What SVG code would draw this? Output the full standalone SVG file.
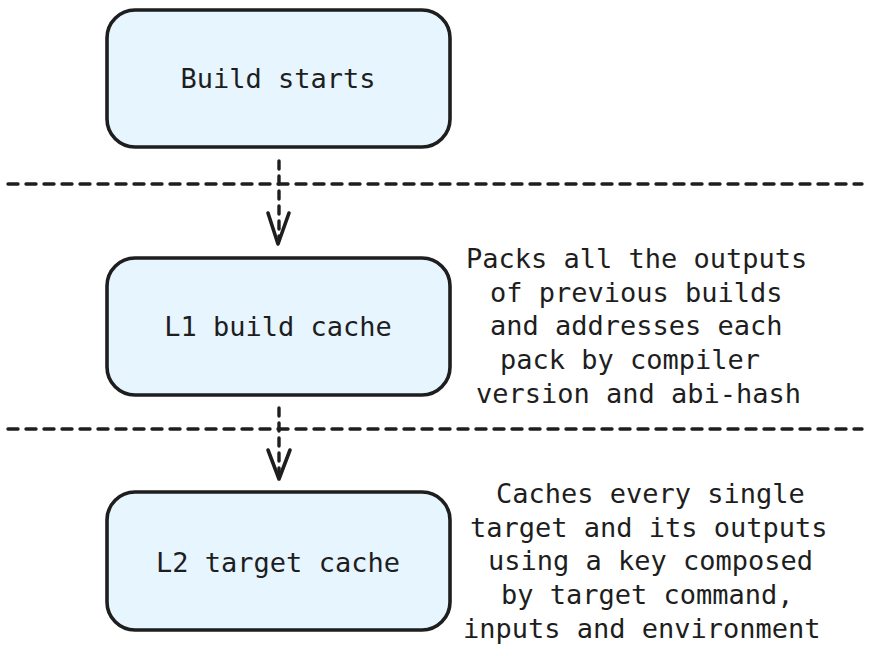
<svg xmlns="http://www.w3.org/2000/svg" width="870" height="656" viewBox="0 0 870 656">
<style>
.box{fill:#e7f5ff;stroke:#1e1e1e;stroke-width:3.6}
.t{font-family:"DejaVu Sans Mono","Liberation Mono",monospace;font-size:27px;fill:#1e1e1e}
.c{text-anchor:middle}
.sep{stroke:#1e1e1e;stroke-width:3.4;stroke-dasharray:10 8;fill:none;stroke-linecap:round}
.arr{stroke:#1e1e1e;stroke-width:3.4;stroke-dasharray:8 7;fill:none;stroke-linecap:round}
.head{stroke:#1e1e1e;stroke-width:3.6;fill:none;stroke-linecap:round;stroke-linejoin:round}
</style>
<rect width="870" height="656" fill="#ffffff"/>
<g id="separators">
<line class="sep" x1="8" y1="184" x2="862" y2="184"/>
<line class="sep" x1="8" y1="429" x2="862" y2="429"/>
</g>
<g id="connectors">
<line class="arr" x1="279" y1="161" x2="279" y2="240"/>
<polyline class="head" points="268,213 278,244 289,213"/>
<line class="arr" x1="279" y1="408" x2="279" y2="476"/>
<polyline class="head" points="268,450 279,479 290,450"/>
</g>
<g id="node-build-starts">
<rect class="box" x="107" y="10" width="343" height="137" rx="28"/>
<text class="t c" x="278" y="88">Build starts</text>
</g>
<g id="node-l1">
<rect class="box" x="107" y="258" width="343" height="137" rx="28"/>
<text class="t c" x="278" y="336">L1 build cache</text>
</g>
<g id="node-l2">
<rect class="box" x="107" y="492" width="343" height="138" rx="28"/>
<text class="t c" x="278" y="572">L2 target cache</text>
</g>
<g id="note-l1">
<text class="t" x="466" y="268">Packs all the outputs</text>
<text class="t" x="490" y="302">of previous builds</text>
<text class="t" x="490" y="335">and addresses each</text>
<text class="t" x="500" y="369">pack by compiler</text>
<text class="t" x="476" y="403">version and abi-hash</text>
</g>
<g id="note-l2">
<text class="t" x="496" y="503">Caches every single</text>
<text class="t" x="470" y="537">target and its outputs</text>
<text class="t" x="488" y="570">using a key composed</text>
<text class="t" x="501" y="604">by target command,</text>
<text class="t" x="463" y="638">inputs and environment</text>
</g>
</svg>
